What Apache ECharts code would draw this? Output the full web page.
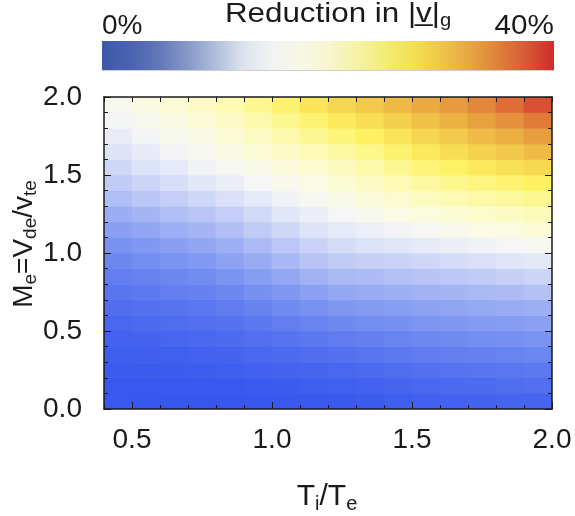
<!DOCTYPE html>
<html><head><meta charset="utf-8">
<script src="https://cdn.jsdelivr.net/npm/echarts@6/dist/echarts.min.js"></script>
<style>html,body{margin:0;padding:0;background:#fff}#c{width:575px;height:516px}</style>
</head><body><div id="c"></div>
<script>
// ---- data ----
const tiTe = [0.45,0.55,0.65,0.75,0.85,0.95,1.05,1.15,1.25,1.35,1.45,1.55,1.65,1.75,1.85,1.95];
const machE = [0.05,0.15,0.25,0.35,0.45,0.55,0.65,0.75,0.85,0.95,1.05,1.15,1.25,1.35,1.45,1.55,1.65,1.75,1.85,1.95];
// reduction in |v|_g (%), one row per machE value, columns follow tiTe
const reduction = [
 [1.6,1.5,1.4,1.3,1.3,1.5,1.7,1.8,2.0,2.3,2.6,2.9,3.1,3.2,3.4,3.5],
 [1.9,1.8,1.8,1.8,1.9,2.1,2.3,2.5,2.8,3.1,3.5,3.8,4.1,4.3,4.6,4.8],
 [2.1,2.2,2.3,2.4,2.6,2.9,3.2,3.5,3.8,4.2,4.6,5.0,5.4,5.6,5.9,6.1],
 [2.5,2.7,2.8,3.0,3.3,3.8,4.2,4.7,5.1,5.6,6.1,6.5,6.9,7.1,7.4,7.6],
 [3.0,3.3,3.6,3.9,4.3,4.8,5.4,6.0,6.5,6.9,7.4,7.9,8.2,8.5,8.7,9.0],
 [3.8,4.1,4.5,4.8,5.3,6.0,6.7,7.4,8.0,8.4,8.8,9.2,9.5,9.8,10.0,10.3],
 [4.7,5.1,5.5,5.9,6.5,7.3,8.1,8.9,9.4,9.8,10.1,10.4,10.7,11.0,11.3,11.6],
 [5.7,6.2,6.7,7.2,7.8,8.7,9.5,10.3,10.9,11.2,11.5,11.8,12.1,12.4,12.7,13.1],
 [6.8,7.3,7.8,8.3,9.1,10.0,10.9,11.8,12.4,12.7,13.0,13.3,13.6,14.0,14.3,14.7],
 [7.8,8.4,9.0,9.6,10.4,11.3,12.3,13.3,13.9,14.3,14.6,14.9,15.3,15.7,16.0,16.4],
 [8.9,9.5,10.2,10.8,11.6,12.6,13.6,14.6,15.3,15.8,16.2,16.7,17.1,17.5,18.0,18.4],
 [10.2,10.8,11.5,12.1,12.9,13.9,14.9,15.9,16.7,17.2,17.8,18.3,18.9,19.5,20.0,20.6],
 [11.4,12.1,12.8,13.4,14.2,15.2,16.2,17.1,18.0,18.7,19.5,20.2,20.9,21.6,22.3,22.9],
 [12.8,13.5,14.2,14.9,15.7,16.6,17.5,18.4,19.4,20.4,21.4,22.4,23.3,24.0,24.7,25.4],
 [13.9,14.7,15.4,16.2,17.1,18.0,18.9,19.8,20.9,22.1,23.3,24.5,25.5,26.3,27.1,27.9],
 [14.9,15.8,16.6,17.5,18.4,19.3,20.3,21.3,22.5,23.9,25.3,26.7,27.8,28.7,29.5,30.3],
 [15.9,16.8,17.7,18.6,19.6,20.7,21.9,23.0,24.3,25.8,27.2,28.7,29.9,30.8,31.7,32.6],
 [16.9,17.8,18.7,19.6,20.7,22.2,23.7,25.2,26.6,27.9,29.2,30.5,31.6,32.6,33.5,34.5],
 [17.9,18.8,19.7,20.6,22.0,23.7,25.4,27.1,28.6,29.8,31.0,32.2,33.3,34.3,35.4,36.5],
 [18.6,19.7,20.8,21.9,23.4,25.3,27.2,29.1,30.5,31.6,32.7,33.7,34.8,36.0,37.2,38.4]
];
const xTickLabels = [0.5, 1.0, 1.5, 2.0];
const yTickLabels = [0.0, 0.5, 1.0, 1.5, 2.0];
const colorMin = 0, colorMax = 40;
const cbLabels = ['0%', '40%'];
// colour scale of the plot (every 2 %)
const plotColors = ['#2e4fee','#3a5aee','#4a69ef','#5b78ef','#6e89f0','#879df2','#a3b4f4','#c1ccf6','#dfe4f8','#f5f6f5',
  '#fbfbe0','#fcfbc6','#fdf9a8','#fdf685','#fdf060','#f8dc52','#f1c448','#e9a640','#e3873a','#dc5a33','#d4232a'];
// colour bar as printed (muted)
const barColors = ['#3e58aa','#4a62b0','#6178b8','#8497c8','#aebddc','#dde3ee','#f1f3f2','#f7f7e6','#f7f6cf','#f6f2a8',
  '#f4ec78','#f3e152','#eec64a','#e7a743','#de833b','#d75a36','#d22a2d'];

const cells = [];
for (let r = 0; r < machE.length; r++)
  for (let c = 0; c < tiTe.length; c++)
    cells.push([tiTe[c], machE[r], reduction[r][c]]);
const halfX = (tiTe[1] - tiTe[0]) / 2, halfY = (machE[1] - machE[0]) / 2;

const chart = echarts.init(document.getElementById('c'), null, {renderer: 'canvas'});
const FONT = "'Liberation Sans', Arial, Helvetica, sans-serif";
const INK = '#1a1a1a';
const spine = {show: true, onZero: false, lineStyle: {color: INK, width: 1.5}};
chart.setOption({
  animation: false,
  grid: {left: 104, right: 23, top: 97, bottom: 107, containLabel: false},
  visualMap: {show: false, type: 'continuous', min: colorMin, max: colorMax, dimension: 2, seriesIndex: 0,
    inRange: {color: plotColors}},
  xAxis: [
    {type: 'value', z: 10, min: 0.4, max: 2.0, interval: 0.1, position: 'bottom', axisLine: spine,
      axisTick: {show: true, inside: true, length: 4, lineStyle: {color: INK, width: 1}},
      axisLabel: {show: false}, splitLine: {show: false}},
    {type: 'value', z: 10, min: 0.4, max: 2.0, position: 'bottom', axisLine: {show: false},
      axisTick: {show: true, inside: true, length: 7, customValues: xTickLabels, lineStyle: {color: INK, width: 1}},
      axisLabel: {show: false}, splitLine: {show: false}},
    {type: 'value', z: 10, min: 0.4, max: 2.0, interval: 0.1, position: 'top', axisLine: spine,
      axisTick: {show: true, inside: true, length: 5, lineStyle: {color: INK, width: 1}},
      axisLabel: {show: false}, splitLine: {show: false}}
  ],
  yAxis: [
    {type: 'value', z: 10, min: 0, max: 2.0, interval: 0.5, position: 'left', axisLine: spine,
      axisTick: {show: true, inside: true, length: 7, lineStyle: {color: INK, width: 1}},
      minorTick: {show: true, splitNumber: 5, length: 4, lineStyle: {color: INK, width: 1}},
      axisLabel: {show: false}, splitLine: {show: false}, minorSplitLine: {show: false}},
    {type: 'value', z: 10, min: 0, max: 2.0, interval: 0.5, position: 'right', axisLine: spine,
      axisTick: {show: true, inside: true, length: 7, lineStyle: {color: INK, width: 1}},
      minorTick: {show: true, splitNumber: 5, length: 4, lineStyle: {color: INK, width: 1}},
      axisLabel: {show: false}, splitLine: {show: false}, minorSplitLine: {show: false}}
  ],
  series: [{
    type: 'custom', xAxisIndex: 0, yAxisIndex: 0, data: cells, encode: {x: 0, y: 1},
    clip: true, z: 1,
    renderItem: function (params, api) {
      const x = api.value(0), y = api.value(1);
      const p0 = api.coord([x - halfX, y + halfY]);
      const p1 = api.coord([x + halfX, y - halfY]);
      const col = api.visual('color');
      return {type: 'rect', shape: {x: p0[0], y: p0[1], width: p1[0] - p0[0], height: p1[1] - p0[1]},
        style: {fill: col, stroke: col, lineWidth: 0.8}};
    }
  }]
});

// ---- text & colour bar ----
const g = [];
const tickFont = {fontFamily: FONT, fontSize: 27, fill: INK, verticalAlign: 'middle'};
xTickLabels.forEach(v => {
  const px = chart.convertToPixel({xAxisIndex: 0}, v);
  g.push({type: 'text', x: px, y: 441, scaleX: 1.04, z: 10,
    style: Object.assign({text: v.toFixed(1), align: 'center'}, tickFont)});
});
yTickLabels.forEach(v => {
  const py = chart.convertToPixel({yAxisIndex: 0}, v);
  g.push({type: 'text', x: 82, y: py + 1, scaleX: 1.04, z: 10,
    style: Object.assign({text: v.toFixed(1), align: 'right'}, tickFont)});
});
const richX = {
  m: {fontFamily: FONT, fontSize: 30, fill: INK, lineHeight: 34},
  s: {fontFamily: FONT, fontSize: 20, fill: INK, lineHeight: 12, verticalAlign: 'bottom'}
};
const richY = {
  m: {fontFamily: FONT, fontSize: 28, fill: INK, lineHeight: 32},
  s: {fontFamily: FONT, fontSize: 19, fill: INK, lineHeight: 12, verticalAlign: 'bottom'}
};
g.push({type: 'text', x: 327, y: 497, z: 10,
  style: {text: '{m|T}{s|i}{m|/T}{s|e}', rich: richX, align: 'center', verticalAlign: 'middle'}});
g.push({type: 'text', x: 24, y: 244, rotation: Math.PI / 2, z: 10,
  style: {text: '{m|M}{s|e}{m|=V}{s|de}{m|/v}{s|te}', rich: richY, align: 'center', verticalAlign: 'middle'}});
g.push({type: 'text', x: 338, y: 14, scaleX: 1.12, z: 10,
  style: {text: '{m|Reduction in |v\u0332|}{s|g}', rich: {
    m: {fontFamily: FONT, fontSize: 28, fill: INK, lineHeight: 32},
    s: {fontFamily: FONT, fontSize: 18, fill: INK, lineHeight: 12, verticalAlign: 'bottom'}},
    align: 'center', verticalAlign: 'middle'}});
g.push({type: 'text', x: 102, y: 26, z: 10,
  style: {text: cbLabels[0], fontFamily: FONT, fontSize: 28, fill: INK, align: 'left', verticalAlign: 'middle'}});
g.push({type: 'text', x: 554, y: 26, scaleX: 1.06, z: 10,
  style: {text: cbLabels[1], fontFamily: FONT, fontSize: 28, fill: INK, align: 'right', verticalAlign: 'middle'}});
g.push({type: 'rect', shape: {x: 102, y: 41, width: 452, height: 29}, z: 5,
  style: {fill: {type: 'linear', x: 0, y: 0, x2: 1, y2: 0,
    colorStops: barColors.map((c, i) => ({offset: i / (barColors.length - 1), color: c}))}}});
g.push({type: 'line', shape: {x1: 102, y1: 70.5, x2: 554, y2: 70.5}, z: 5, style: {stroke: '#cfcfcf', lineWidth: 1}});
chart.setOption({graphic: g});
</script></body></html>
